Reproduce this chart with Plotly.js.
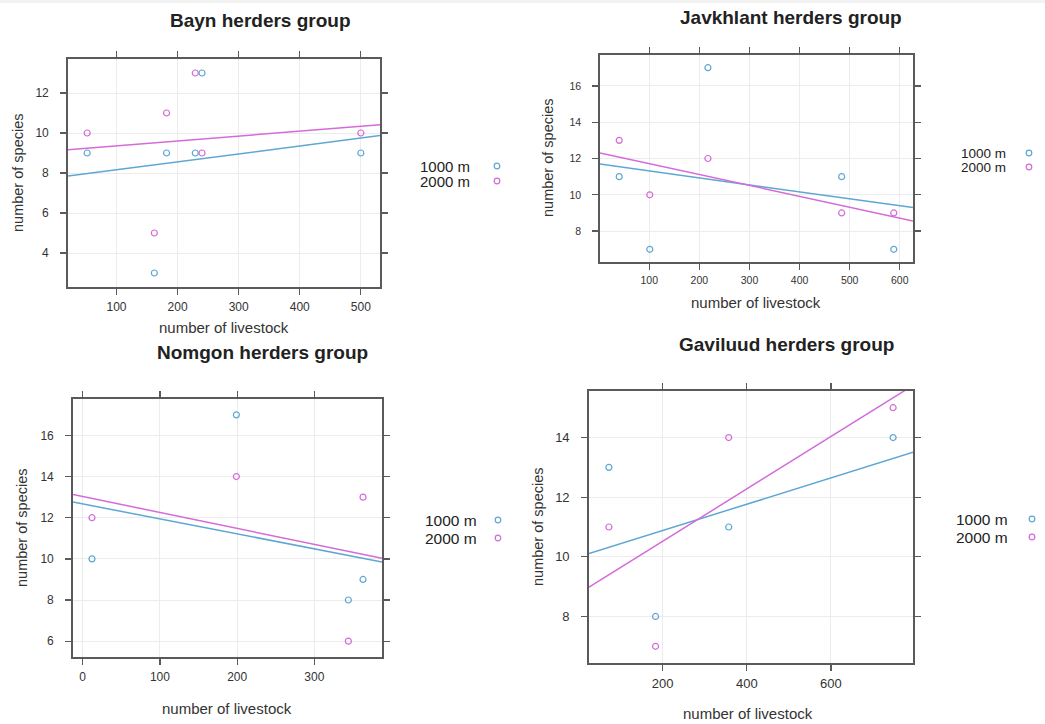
<!DOCTYPE html>
<html>
<head>
<meta charset="utf-8">
<script src="https://cdn.plot.ly/plotly-3.0.1.min.js"></script>
<style>html,body{margin:0;padding:0;background:#fff;}#chart{width:1045px;height:724px;}</style>
</head>
<body>
<div id="chart"></div>
<script>
// ---- data ----
const groupNames = ["Bayn herders group", "Javkhlant herders group", "Nomgon herders group", "Gaviluud herders group"];
const seriesNames = ["1000 m", "2000 m"];

const baynLivestock = [52, 162, 182, 229, 240, 500];
const bayn1000 = [9, 3, 9, 9, 13, 9];
const bayn2000 = [10, 5, 11, 13, 9, 10];

const javLivestock = [40, 101, 217, 484, 588];
const jav1000 = [11, 7, 17, 11, 7];
const jav2000 = [13, 10, 12, 9, 9];

const nomLivestock = [12, 199, 344, 363];
const nom1000 = [10, 17, 8, 9];
const nom2000 = [12, 14, 6, 13];

const gavLivestock = [72, 183, 357, 748];
const gav1000 = [13, 8, 11, 14];
const gav2000 = [11, 7, 14, 15];

const xTickStep = [100, 100, 100, 200];
const yTickStep = [2, 2, 2, 2];

// ---- helpers ----
const col = ["#5ea7d2", "#d46bd9"];
const FONT = "Liberation Sans, Arial, sans-serif";
const W = 1045, H = 724;
function px(x){ return x / W; }
function py(y){ return 1 - y / H; }

function extRange(arr){
  const mn = Math.min(...arr), mx = Math.max(...arr), d = (mx - mn) * 0.07;
  return [mn - d, mx + d];
}
function lmFit(x, y){
  const n = x.length;
  const mx = x.reduce((a,b)=>a+b,0)/n, my = y.reduce((a,b)=>a+b,0)/n;
  let sxy = 0, sxx = 0;
  for (let i=0;i<n;i++){ sxy += (x[i]-mx)*(y[i]-my); sxx += (x[i]-mx)*(x[i]-mx); }
  const b = sxy/sxx; return {a: my - b*mx, b: b};
}

const panels = [
  {x: baynLivestock, y: [bayn1000, bayn2000], dom: {x:[68,380], y:[59,287]}, tick: 12,
   title: [260, 20], xt: [224, 328], yt: [18, 173], leg: {tx: 472, sx: 497, y: [166, 181], fs: 15}},
  {x: javLivestock, y: [jav1000, jav2000], dom: {x:[600,913], y:[55,262]}, tick: 10.5,
   title: [791, 18], xt: [756, 302], yt: [548, 158], leg: {tx: 1008, sx: 1029, y: [153, 167], fs: 13.5}},
  {x: nomLivestock, y: [nom1000, nom2000], dom: {x:[73,382], y:[399,657]}, tick: 12,
   title: [262, 353], xt: [227, 708], yt: [22, 528], leg: {tx: 479, sx: 498, y: [520, 538], fs: 15.5}},
  {x: gavLivestock, y: [gav1000, gav2000], dom: {x:[589,913], y:[391,663]}, tick: 13,
   title: [786, 344], xt: [748, 713], yt: [538, 527], leg: {tx: 1010, sx: 1032, y: [519, 537], fs: 15.5}}
];

const traces = [];
const layout = {
  width: W, height: H, margin: {l:0, r:0, t:0, b:0},
  paper_bgcolor: "#ffffff", plot_bgcolor: "#ffffff",
  showlegend: false, font: {family: FONT, color: "#333"},
  annotations: [], shapes: [
    {type: "rect", xref: "paper", yref: "paper", x0: 0, x1: 1, y0: py(3), y1: 1,
     fillcolor: "#f2f2f2", line: {width: 0}, layer: "below"}
  ]
};

panels.forEach((p, i) => {
  const k = i === 0 ? "" : String(i+1);
  const xa = "x" + k, ya = "y" + k;
  const xr = extRange(p.x);
  const yr = extRange(p.y[0].concat(p.y[1]));
  p.y.forEach((ys, s) => {
    traces.push({type: "scatter", mode: "markers", x: p.x, y: ys, xaxis: xa, yaxis: ya,
      name: seriesNames[s], cliponaxis: false,
      marker: {symbol: "circle-open", size: 6, color: col[s], line: {width: 1.2, color: col[s]}}});
    const f = lmFit(p.x, ys);
    traces.push({type: "scatter", mode: "lines", x: xr, y: xr.map(v => f.a + f.b*v),
      xaxis: xa, yaxis: ya, name: seriesNames[s] + " fit", line: {color: col[s], width: 1.5}});
  });
  const axCommon = {
    showline: true, mirror: "ticks", linecolor: "#5a5a5a", linewidth: 1.8,
    ticks: "outside", ticklen: 6, tickcolor: "#5a5a5a", tickwidth: 1.3,
    showgrid: true, gridcolor: "#ececec", gridwidth: 1, zeroline: false,
    tickfont: {family: FONT, size: p.tick, color: "#333"},
    fixedrange: true
  };
  layout["xaxis" + k] = Object.assign({}, axCommon, {ticklabelstandoff: 2,
    domain: [px(p.dom.x[0]), px(p.dom.x[1])], range: xr, dtick: xTickStep[i], tick0: 0, anchor: ya});
  layout["yaxis" + k] = Object.assign({}, axCommon, {ticklabelstandoff: 9,
    domain: [py(p.dom.y[1]), py(p.dom.y[0])], range: yr, dtick: yTickStep[i], tick0: 0, anchor: xa});

  layout.annotations.push(
    {text: "<b>" + groupNames[i] + "</b>", xref: "paper", yref: "paper", x: px(p.title[0]), y: py(p.title[1]),
     xanchor: "center", yanchor: "middle", showarrow: false, font: {family: FONT, size: 19, color: "#222"}},
    {text: "number of livestock", xref: "paper", yref: "paper", x: px(p.xt[0]), y: py(p.xt[1]),
     xanchor: "center", yanchor: "middle", showarrow: false, font: {family: FONT, size: 15, color: "#333"}},
    {text: "number of species", xref: "paper", yref: "paper", x: px(p.yt[0]), y: py(p.yt[1]), textangle: -90,
     xanchor: "center", yanchor: "middle", showarrow: false, font: {family: FONT, size: 14.5, color: "#333"}}
  );
  seriesNames.forEach((nm, s) => {
    layout.annotations.push({text: nm, xref: "paper", yref: "paper", x: px(p.leg.tx), y: py(p.leg.y[s]),
      xanchor: "right", yanchor: "middle", showarrow: false, font: {family: FONT, size: p.leg.fs, color: "#222"}});
    layout.shapes.push({type: "circle", xref: "paper", yref: "paper", xsizemode: "pixel", ysizemode: "pixel",
      xanchor: px(p.leg.sx), yanchor: py(p.leg.y[s]), x0: -2.8, x1: 2.8, y0: -2.8, y1: 2.8,
      line: {color: col[s], width: 1.2}, fillcolor: "rgba(0,0,0,0)"});
  });
});

Plotly.newPlot("chart", traces, layout, {displayModeBar: false, staticPlot: true});
</script>
</body>
</html>
